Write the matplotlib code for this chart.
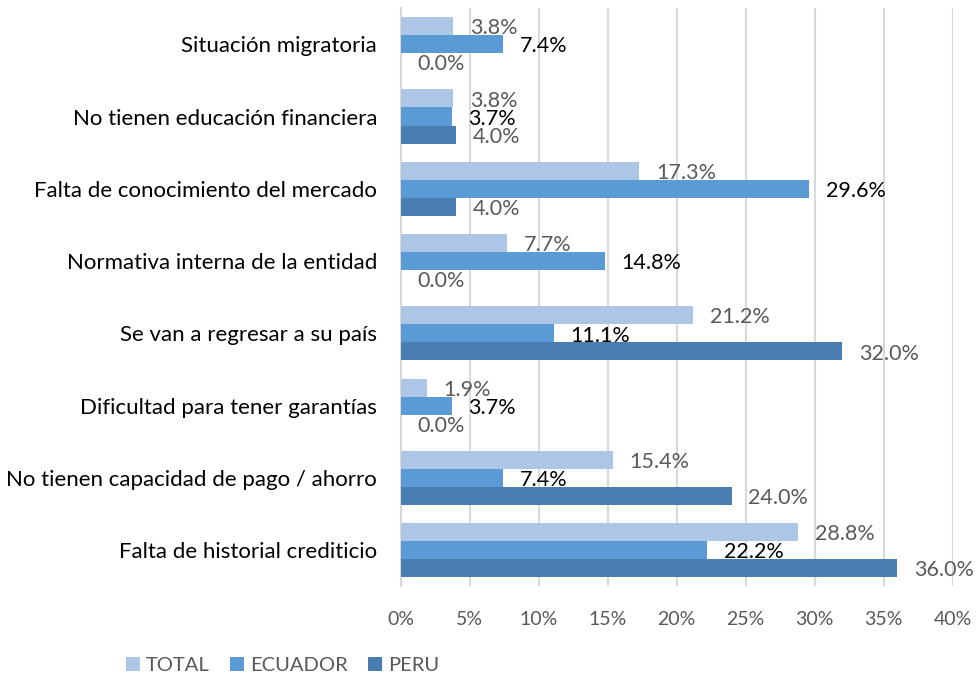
import matplotlib.pyplot as plt
import numpy as np

plt.rcParams['font.family'] = ['Lato', 'DejaVu Sans']

categories = ["Situación migratoria", "No tienen educación financiera",
              "Falta de conocimiento del mercado", "Normativa interna de la entidad",
              "Se van a regresar a su país", "Dificultad para tener garantías",
              "No tienen capacidad de pago / ahorro", "Falta de historial crediticio"]
total = [3.8, 3.8, 17.3, 7.7, 21.2, 1.9, 15.4, 28.8]
ecuador = [7.4, 3.7, 29.6, 14.8, 11.1, 3.7, 7.4, 22.2]
peru = [0.0, 4.0, 4.0, 0.0, 32.0, 0.0, 24.0, 36.0]
series_names = ["TOTAL", "ECUADOR", "PERU"]
colors = ["#AEC6E6", "#5B9BD5", "#4A7EB0"]
label_colors = ["#595959", "#000000", "#595959"]
xticks = [0, 5, 10, 15, 20, 25, 30, 35, 40]

fig = plt.figure(figsize=(9.8, 6.77), dpi=100)
ax = fig.add_axes([0.409, 0.134, 0.563, 0.854])

y = np.arange(len(categories))
h = 0.25
for i, (vals, name) in enumerate(zip([total, ecuador, peru], series_names)):
    offs = (i - 1) * h
    ax.barh(y + offs, vals, height=h, color=colors[i], label=name, zorder=3)
    for yy, v in zip(y + offs, vals):
        ax.text(v + 1.2, yy + 0.03, f"{v:.1f}%", va='center', ha='left',
                fontsize=15.5, color=label_colors[i], zorder=4)

ax.set_ylim(len(categories) - 0.5, -0.5)
ax.set_xlim(0, 40)
ax.set_xticks(xticks)
ax.set_xticklabels([f"{t}%" for t in xticks], fontsize=14, color="#595959")
ax.set_yticks(y)
ax.set_yticklabels(categories, fontsize=16, color="#000000")
ax.tick_params(axis='both', length=0)
ax.tick_params(axis='x', pad=18)
ax.tick_params(axis='y', pad=17)
ax.grid(axis='x', color="#D9D9D9", linewidth=1.5, zorder=0)
for s in ['top', 'right', 'bottom']:
    ax.spines[s].set_visible(False)
ax.spines['left'].set_color("#D9D9D9")
ax.spines['left'].set_linewidth(1.5)

leg = fig.legend(loc='lower left', bbox_to_anchor=(0.11, -0.022), ncol=3, frameon=False,
                 fontsize=14.5, handlelength=0.7, handleheight=0.7, handletextpad=0.3,
                 columnspacing=1.0)
for t in leg.get_texts():
    t.set_color("#595959")

fig.savefig("out.png", dpi=100)
